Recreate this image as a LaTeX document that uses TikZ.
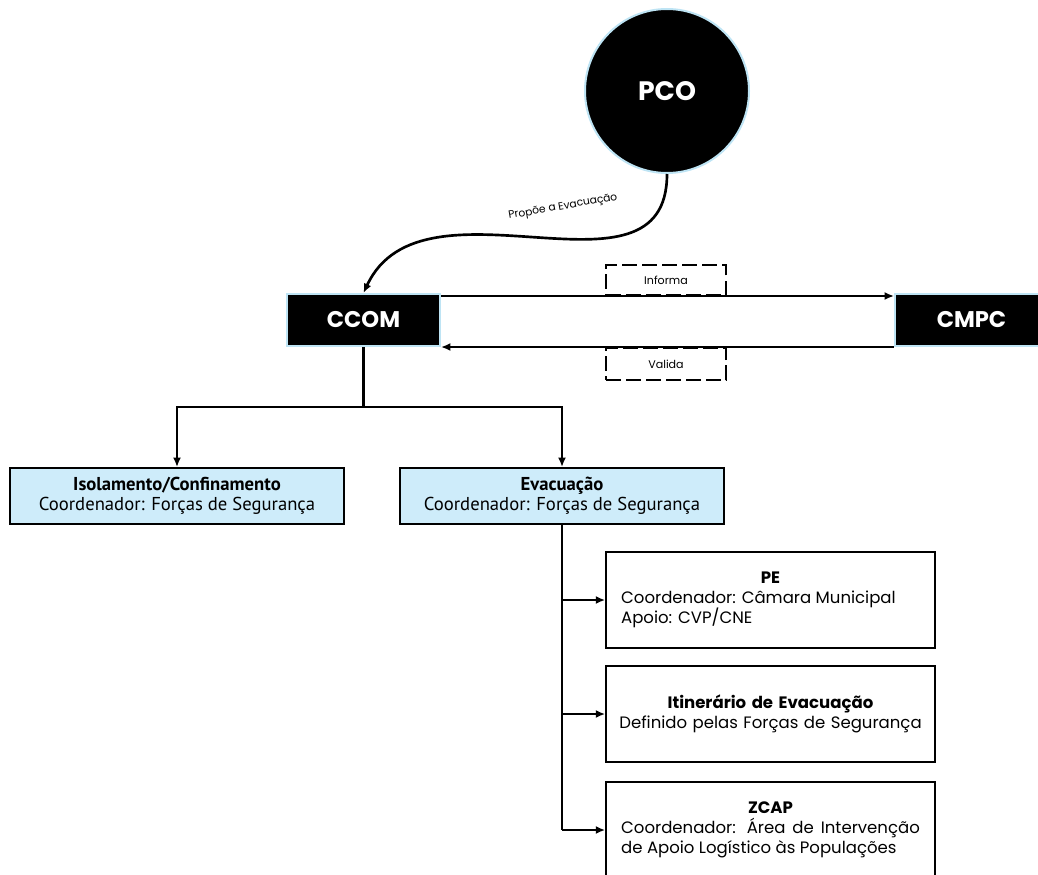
\documentclass[tikz,border=0pt]{standalone}
\usepackage{fontspec}
\setmainfont{Poppins}
\newfontfamily\boxfont{PT Sans}
\usetikzlibrary{arrows.meta}
\tikzset{>={Latex[length=7pt,width=6pt]}}
\definecolor{lightcyan}{RGB}{190,228,244}
\definecolor{boxblue}{RGB}{206,236,250}
\tikzset{
  blackbox/.style={draw=lightcyan,line width=1.5pt,fill=black,text=white,inner sep=0pt,font=\bfseries\fontsize{17}{20}\selectfont},
  bluebox/.style={draw=black,line width=1.5pt,fill=boxblue,minimum height=42pt,inner sep=0pt,align=center,font=\boxfont\fontsize{14}{15}\selectfont},
  whitebox/.style={draw=black,line width=1.2pt,minimum height=72pt,text width=224pt,inner xsep=11.4pt,align=justify,font=\fontsize{12.4}{15}\selectfont},
  dashbox/.style={draw,dash pattern=on 11pt off 4pt,line width=1.5pt,minimum width=90pt,minimum height=23pt,font=\fontsize{8.3}{9}\selectfont},
  link/.style={line width=2pt}
}
\newcommand\boxhead[1]{\makebox[224pt][c]{\bfseries #1}}

\begin{document}
\begin{tikzpicture}[x=0.75pt,y=-0.75pt]
\useasboundingbox (0,0) rectangle (1038,874);
\node (pco) [blackbox,circle,minimum size=123pt,font=\bfseries\fontsize{20}{24}\selectfont] at (667,91) {PCO};
\node (ccom) [blackbox,minimum width=114.75pt,minimum height=39pt] at (363.5,320) {CCOM};
\node (cmpc) [blackbox,minimum width=114.75pt,minimum height=39pt] at (971.5,320) {CMPC};
\node (informa) [dashbox] at (666,280) {Informa};
\node (valida) [dashbox,minimum height=24pt] at (666,364) {Valida};
\node (iso) [bluebox,minimum width=250.5pt] at (177,496) {\textbf{Isolamento/Confinamento}\\Coordenador: Forças de Segurança};
\node (evac) [bluebox,minimum width=243pt] at (562,496) {\textbf{Evacuação}\\Coordenador: Forças de Segurança};
\node (pe) [whitebox] at (770.5,600) {\boxhead{PE}\\Coordenador: Câmara Municipal\\Apoio: CVP/CNE};
\node (itin) [whitebox,align=center,text width=238pt,inner xsep=4.4pt] at (770.5,714) {\textbf{Itinerário de Evacuação}\\Definido pelas Forças de Segurança};
\node (zcap) [whitebox] at (770.5,830) {\boxhead{ZCAP}\\Coordenador: Área de Intervenção\linebreak de Apoio Logístico às Populações};

% PCO -> CCOM
\draw [link,->] (pco.south) to[out=-90,in=65,looseness=1.1] (ccom.north);
\node (proplbl) [rotate=10,font=\fontsize{8}{9}\selectfont] at (563,207) {Propõe a Evacuação};

% CCOM <-> CMPC
\draw [line width=1.5pt,->] ([yshift=-2.25pt]ccom.north east) -- ([yshift=-2.25pt]cmpc.north west);
\draw [line width=1.5pt,->] (cmpc.south west) -- (ccom.south east);

% tree
\coordinate (split) at (363.5,407);
\draw [link] (ccom.south) -- (split);
\draw [link,->] (split) -| (iso.north);
\draw [link,->] (split) -| (evac.north);
\draw [link] (evac.south) -- (evac.south |- zcap.west);
\draw [link,->] (evac.south |- pe.west) -- (pe.west);
\draw [link,->] (evac.south |- itin.west) -- (itin.west);
\draw [link,->] (evac.south |- zcap.west) -- (zcap.west);
\end{tikzpicture}
\end{document}
